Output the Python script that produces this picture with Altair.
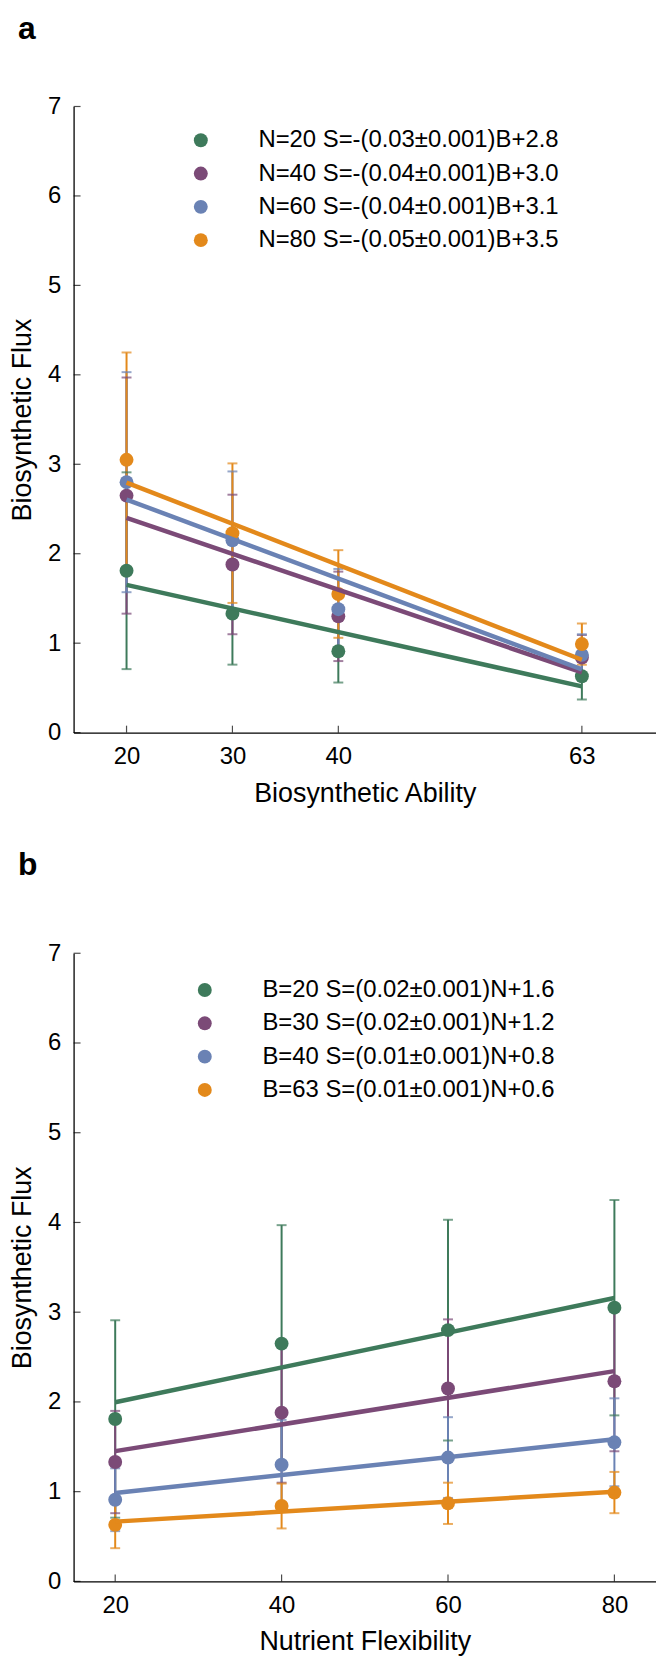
import altair as alt
import pandas as pd

# ---- data ----
B_VALUES = [20, 30, 40, 63]          # biosynthetic ability
N_VALUES = [20, 40, 60, 80]          # nutrient flexibility

# mean flux, one list per N (values along B_VALUES)
FLUX_N20 = [1.81, 1.33, 0.91, 0.63]
FLUX_N40 = [2.65, 1.88, 1.30, 0.84]
FLUX_N60 = [2.80, 2.15, 1.38, 0.87]
FLUX_N80 = [3.05, 2.23, 1.55, 0.99]

# error bar half-widths, one list per N (values along B_VALUES)
ERR_N20 = [1.10, 0.57, 0.35, 0.26]
ERR_N40 = [1.32, 0.78, 0.50, 0.25]
ERR_N60 = [1.23, 0.77, 0.45, 0.23]
ERR_N80 = [1.20, 0.78, 0.49, 0.23]

LABELS_A = [
    "N=20 S=-(0.03±0.001)B+2.8",
    "N=40 S=-(0.04±0.001)B+3.0",
    "N=60 S=-(0.04±0.001)B+3.1",
    "N=80 S=-(0.05±0.001)B+3.5",
]
LABELS_B = [
    "B=20 S=(0.02±0.001)N+1.6",
    "B=30 S=(0.02±0.001)N+1.2",
    "B=40 S=(0.01±0.001)N+0.8",
    "B=63 S=(0.01±0.001)N+0.6",
]

X_TICKS_A = [20, 30, 40, 63]
X_TICKS_B = [20, 40, 60, 80]
Y_TICKS = [0, 1, 2, 3, 4, 5, 6, 7]

COLORS = ["#3E7A5B", "#7B4A77", "#6A82B4", "#E3891B"]
FONT = "Liberation Sans"

FLUX = [FLUX_N20, FLUX_N40, FLUX_N60, FLUX_N80]
ERR = [ERR_N20, ERR_N40, ERR_N60, ERR_N80]

rows = []
for i, n in enumerate(N_VALUES):
    for j, b in enumerate(B_VALUES):
        f = FLUX[i][j]
        e = ERR[i][j]
        rows.append(dict(N=n, B=b, flux=f, lo=f - e, hi=f + e,
                         series_a=LABELS_A[i], series_b=LABELS_B[j]))
df = pd.DataFrame(rows)


def panel(xfield, series, labels, xdomain, xticks, xtitle, letter,
          legend_x, legend_y, title_offset, height):
    xscale = alt.Scale(domain=xdomain, nice=False, zero=False)
    yscale = alt.Scale(domain=[0, 7], nice=False, zero=True)
    xaxis = alt.Axis(values=xticks, title=xtitle, grid=False, ticks=False,
                     labelPadding=12, titlePadding=12, format="d")
    yaxis = alt.Axis(values=Y_TICKS, title="Biosynthetic Flux", grid=False,
                     ticks=False, labelPadding=13, titlePadding=11, format="d")
    X = lambda f: alt.X(f"{f}:Q", scale=xscale, axis=xaxis)
    Y = lambda f: alt.Y(f"{f}:Q", scale=yscale, axis=yaxis)
    legend = alt.Legend(orient="none", legendX=legend_x, legendY=legend_y, title=None,
                        symbolType="circle", symbolSize=196, symbolStrokeWidth=0,
                        symbolOpacity=1, labelFont=FONT, labelFontSize=24,
                        labelColor="black", labelOffset=46, rowPadding=9.5,
                        padding=0, labelLimit=0)
    col = alt.Color(f"{series}:N", scale=alt.Scale(domain=labels, range=COLORS),
                    legend=legend)
    base = alt.Chart(df)

    pts = base.mark_circle(size=196, opacity=1).encode(
        x=X(xfield), y=Y("flux"), color=col)
    bars = base.mark_rule(strokeWidth=2).encode(
        x=X(xfield), y=Y("lo"), y2="hi:Q", color=col)
    cap_lo = base.mark_tick(orient="horizontal", size=10, thickness=2).encode(
        x=X(xfield), y=Y("lo"), color=col)
    cap_hi = base.mark_tick(orient="horizontal", size=10, thickness=2).encode(
        x=X(xfield), y=Y("hi"), color=col)
    fit = base.transform_regression(xfield, "flux", groupby=[series]).mark_line(
        strokeWidth=4.5).encode(x=X(xfield), y=Y("flux"), color=col)

    xt = alt.Chart(pd.DataFrame({"v": xticks})).mark_tick(
        orient="vertical", size=7, thickness=1.2, color="black", yOffset=-3.5
    ).encode(x=X("v"), y=alt.datum(0))
    yt = alt.Chart(pd.DataFrame({"v": Y_TICKS})).mark_tick(
        orient="horizontal", size=7, thickness=1.2, color="black", xOffset=3.5
    ).encode(y=Y("v"), x=alt.datum(xdomain[0]))

    return alt.layer(bars, cap_lo, cap_hi, pts, fit, xt, yt).properties(
        width=586, height=height,
        title=alt.Title(letter, anchor="start", frame="group", dx=-56,
                        fontSize=32, fontWeight="bold", font=FONT,
                        baseline="alphabetic", offset=title_offset, color="black"),
    )


pa = panel("B", "series_a", LABELS_A, [15, 70], X_TICKS_A,
           "Biosynthetic Ability", "a", 116, 22, 24, 630)
pb = panel("N", "series_b", LABELS_B, [15, 85], X_TICKS_B,
           "Nutrient Flexibility", "b", 120, 25, 34.5, 632)

chart = alt.vconcat(pa, pb, spacing=43).resolve_scale(color="independent").properties(
    padding={"left": 0, "top": 0, "right": 0, "bottom": 0}
).configure_view(stroke=None).configure_axis(
    labelFont=FONT, titleFont=FONT, labelFontSize=24, titleFontSize=27,
    labelColor="black", titleColor="black", titleFontWeight="normal",
    domainColor="black", domainWidth=1.3,
)

chart.save("out.html", embed_options={"renderer": "svg", "actions": False})
